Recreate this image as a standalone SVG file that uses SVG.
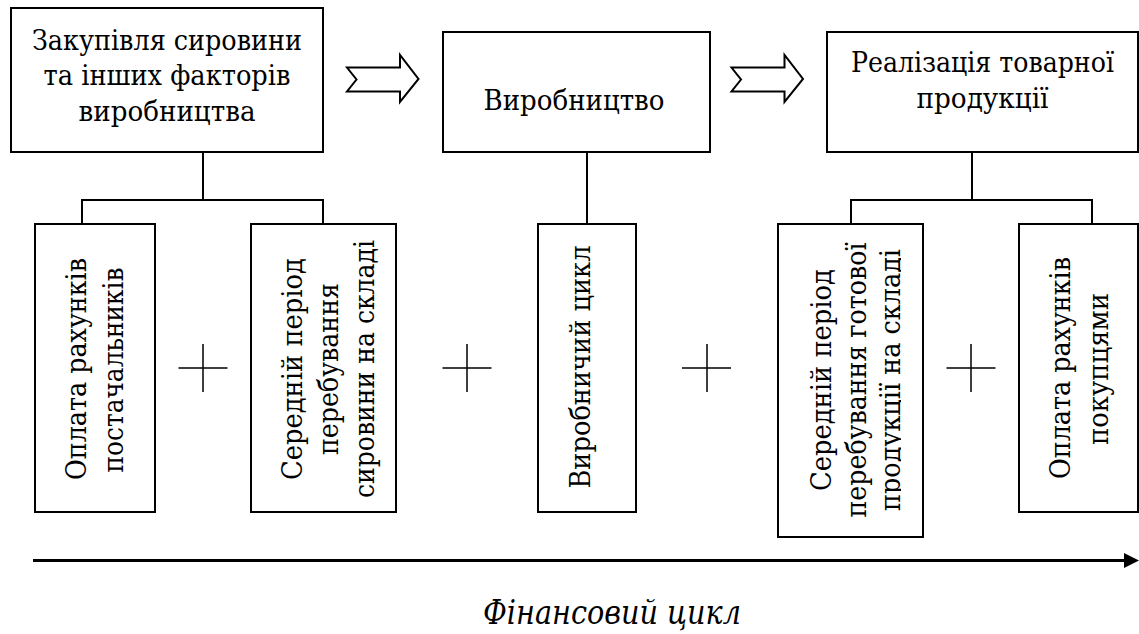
<svg xmlns="http://www.w3.org/2000/svg" width="1139" height="634" viewBox="0 0 1139 634">
<style>
.box{fill:#fff;stroke:#000;stroke-width:2}
.t{font-family:"DejaVu Serif","Liberation Serif",serif;font-size:28px;fill:#000;text-anchor:middle}
.ln{fill:none;stroke:#000;stroke-width:2}
.plus{fill:none;stroke:#000;stroke-width:1.5}
.blk{fill:#fff;stroke:#000;stroke-width:2;stroke-linejoin:miter}
.cap{font-family:"DejaVu Serif","Liberation Serif",serif;font-style:italic;font-size:33px;fill:#000;text-anchor:middle}
</style>
<defs>
<marker id="ah" markerWidth="15" markerHeight="15" refX="0" refY="7.5" orient="auto" markerUnits="userSpaceOnUse" viewBox="0 0 15 15">
<path d="M0 0 L15 7.5 L0 15 Z" fill="#000"/>
</marker>
<clipPath id="clipC"><rect x="770" y="220" width="131" height="320"/></clipPath>
</defs>
<rect width="1139" height="634" fill="#fff"/>
<g id="connectors">
<path class="ln" d="M203 152 V200 M82 224 V200 H323 V224"/>
<path class="ln" d="M587 152 V224"/>
<path class="ln" d="M972 152 V200 M851 224 V200 H1092 V224"/>
<polygon class="blk" points="347,67.5 400,67.5 400,55 418.5,79 400,102 400,91.5 347,91.5 356.5,79.5"/>
<polygon class="blk" points="731.5,67.5 784.5,67.5 784.5,55 803,79 784.5,102 784.5,91.5 731.5,91.5 741,79.5"/>
<line x1="33" y1="560.5" x2="1124" y2="560.5" stroke="#000" stroke-width="3" marker-end="url(#ah)"/>
</g>
<g id="node-purchase">
<rect class="box" x="11" y="8" width="312" height="144"/>
<text class="t" x="167" y="50" textLength="270" lengthAdjust="spacingAndGlyphs">Закупівля сировини</text>
<text class="t" x="167" y="85" textLength="247" lengthAdjust="spacingAndGlyphs">та інших факторів</text>
<text class="t" x="167" y="121" textLength="177" lengthAdjust="spacingAndGlyphs">виробництва</text>
</g>
<g id="node-production">
<rect class="box" x="443" y="32" width="267" height="120"/>
<text class="t" x="574" y="110" textLength="181" lengthAdjust="spacingAndGlyphs">Виробництво</text>
</g>
<g id="node-sales">
<rect class="box" x="827" y="32" width="311" height="120"/>
<text class="t" x="982.5" y="72" font-size="26" textLength="263" lengthAdjust="spacingAndGlyphs">Реалізація товарної</text>
<text class="t" x="982.5" y="108" textLength="132" lengthAdjust="spacingAndGlyphs">продукції</text>
</g>
<g id="node-supplier-pay">
<rect class="box" x="35" y="224" width="120" height="288"/>
<text class="t" transform="translate(86,369) rotate(-90)" textLength="222" lengthAdjust="spacingAndGlyphs">Оплата рахунків</text>
<text class="t" transform="translate(123,370) rotate(-90)" textLength="205" lengthAdjust="spacingAndGlyphs">постачальників</text>
</g>
<g id="node-raw-storage">
<rect class="box" x="251" y="224" width="145" height="288"/>
<text class="t" transform="translate(302,369) rotate(-90)" textLength="222" lengthAdjust="spacingAndGlyphs">Середній період</text>
<text class="t" transform="translate(338,369) rotate(-90)" textLength="172" lengthAdjust="spacingAndGlyphs">перебування</text>
<text class="t" transform="translate(374,369) rotate(-90)" textLength="258" lengthAdjust="spacingAndGlyphs">сировини на складі</text>
</g>
<g id="node-prod-cycle">
<rect class="box" x="538" y="224" width="98" height="288"/>
<text class="t" transform="translate(590,367) rotate(-90)" textLength="243" lengthAdjust="spacingAndGlyphs">Виробничий цикл</text>
</g>
<g id="node-goods-storage">
<rect class="box" x="778" y="224" width="145" height="313"/>
<g clip-path="url(#clipC)">
<text class="t" transform="translate(831,380) rotate(-90)" textLength="222" lengthAdjust="spacingAndGlyphs">Середній період</text>
<text class="t" transform="translate(866,380) rotate(-90)" textLength="275" lengthAdjust="spacingAndGlyphs">перебування готової</text>
<text class="t" transform="translate(900,380) rotate(-90)" textLength="262" lengthAdjust="spacingAndGlyphs">продукції на складі</text>
</g>
</g>
<g id="node-customer-pay">
<rect class="box" x="1019" y="224" width="119" height="288"/>
<text class="t" transform="translate(1070,368) rotate(-90)" textLength="222" lengthAdjust="spacingAndGlyphs">Оплата рахунків</text>
<text class="t" transform="translate(1108,369) rotate(-90)" textLength="152" lengthAdjust="spacingAndGlyphs">покупцями</text>
</g>
<g id="plus-signs">
<path class="plus" d="M178.5 368 H227.5 M203 344 V392"/>
<path class="plus" d="M442.5 368 H491.5 M467 344 V392"/>
<path class="plus" d="M682 368 H731 M707 344 V392"/>
<path class="plus" d="M946.5 368 H995.5 M971 344 V392"/>
</g>
<g id="caption">
<text class="cap" x="612" y="624" textLength="258" lengthAdjust="spacingAndGlyphs">Фінансовий цикл</text>
</g>
</svg>
